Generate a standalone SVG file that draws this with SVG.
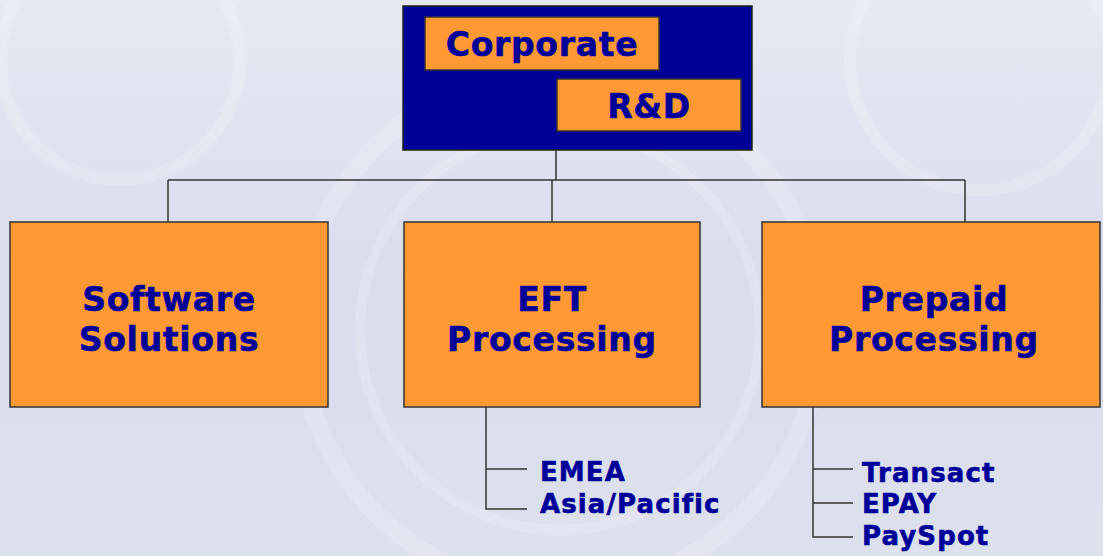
<svg xmlns="http://www.w3.org/2000/svg" width="1103" height="556" viewBox="0 0 1103 556">
<style>
.box{fill:#FF9933;stroke:#333333;stroke-width:1.5}
.t{font-family:"DejaVu Sans",Verdana,sans-serif;font-weight:bold;fill:#000099;stroke:#000099;stroke-width:0.6}
.big{font-size:33px;text-anchor:middle;letter-spacing:0.7px}
.small{font-size:26px;letter-spacing:1.1px}
.ln{stroke:#333333;stroke-width:1.5;fill:none}
.sw{fill:none;stroke:#ffffff;stroke-opacity:0.18}
</style>
<defs>
<linearGradient id="bg" x1="0" y1="0" x2="0" y2="1">
<stop offset="0" stop-color="#e6e9f3"/>
<stop offset="0.5" stop-color="#d9ddec"/>
<stop offset="1" stop-color="#dde1ee"/>
</linearGradient>
</defs>
<rect width="1103" height="556" fill="url(#bg)"/>
<g id="background-swirls">
<circle cx="560" cy="330" r="260" class="sw" stroke-width="18"/>
<circle cx="560" cy="330" r="200" class="sw" stroke-width="10"/>
<circle cx="980" cy="60" r="130" class="sw" stroke-width="12"/>
<circle cx="120" cy="60" r="120" class="sw" stroke-width="12"/>
</g>
<g id="connectors">
<path class="ln" d="M556,150 V180 M168,180 H965 M168,180 V222 M552,180 V222 M965,180 V222"/>
<path class="ln" d="M486,407 V509 H527 M486,469 H527"/>
<path class="ln" d="M813,407 V537 H853 M813,469 H853 M813,503 H853"/>
</g>
<g id="corporate">
<rect x="403" y="6" width="349" height="144" fill="#000099" stroke="#222222" stroke-width="1.5"/>
<rect class="box" x="425" y="17" width="234" height="53"/>
<text class="t big" x="542" y="56">Corporate</text>
<rect class="box" x="557" y="79" width="184" height="52"/>
<text class="t big" x="649" y="118">R&amp;D</text>
</g>
<g id="software">
<rect class="box" x="10" y="222" width="318" height="185"/>
<text class="t big" x="169" y="311">Software</text>
<text class="t big" x="169" y="351">Solutions</text>
</g>
<g id="eft">
<rect class="box" x="404" y="222" width="296" height="185"/>
<text class="t big" x="552" y="311">EFT</text>
<text class="t big" x="552" y="351">Processing</text>
</g>
<g id="prepaid">
<rect class="box" x="762" y="222" width="338" height="185"/>
<text class="t big" x="934" y="311">Prepaid</text>
<text class="t big" x="934" y="351">Processing</text>
</g>
<g id="eft-regions">
<text class="t small" x="540" y="481">EMEA</text>
<text class="t small" x="540" y="513">Asia/Pacific</text>
</g>
<g id="prepaid-units">
<text class="t small" x="862" y="482">Transact</text>
<text class="t small" x="862" y="513">EPAY</text>
<text class="t small" x="862" y="545">PaySpot</text>
</g>
</svg>
